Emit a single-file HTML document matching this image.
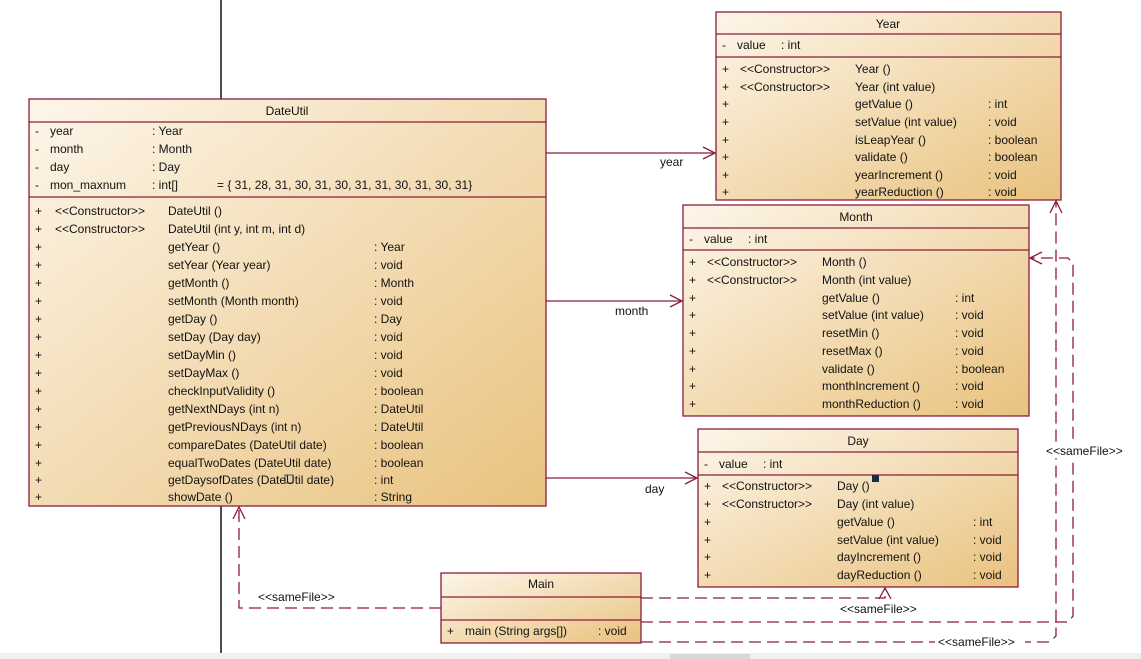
<!DOCTYPE html>
<html><head><meta charset="utf-8"><style>
html,body{margin:0;padding:0;background:#fff;width:1141px;height:659px;overflow:hidden}
svg text{font-family:"Liberation Sans",sans-serif;font-size:12px;fill:#111}
</style></head><body>
<svg width="1141" height="659" viewBox="0 0 1141 659" xmlns="http://www.w3.org/2000/svg">
<defs>
<linearGradient id="g" x1="0" y1="0" x2="1" y2="1">
<stop offset="0" stop-color="#fdf6ea"/><stop offset="1" stop-color="#e9c27e"/>
</linearGradient>
</defs>
<line x1="221" y1="0" x2="221" y2="659" stroke="#111" stroke-width="1.5"/>
<rect x="0" y="653" width="1141" height="6" fill="#f0f0f0"/>
<rect x="670" y="654" width="80" height="5" fill="#d8d8d8"/>

<g stroke="#8b1c3c" stroke-width="1.3" fill="none">
<line x1="546" y1="153" x2="715" y2="153"/><polyline points="703,147 715,153 703,159"/>
<line x1="546" y1="301" x2="682" y2="301"/><polyline points="670,295 682,301 670,307"/>
<line x1="546" y1="478" x2="697" y2="478"/><polyline points="685,472 697,478 685,484"/>
<g stroke-dasharray="12,6">
<polyline points="441,608 239,608 239,507"/>
<polyline points="641,598 885,598 885,588"/>
<polyline points="641,622 1068,622 1073,616 1073,263 1068,258 1030,258"/>
<polyline points="641,642 1050,642 1056,636 1056,201"/>
</g>
<polyline points="233,519 239,507 245,519"/>
<polyline points="879,599 885,588 891,599"/>
<polyline points="1042,252 1030,258 1042,264"/>
<polyline points="1050,213 1056,201 1062,213"/>
</g>
<g fill="#fff"><rect x="1040" y="442" width="94" height="16"/><rect x="935" y="634" width="90" height="16"/></g>
<text x="660" y="166">year</text>
<text x="615" y="315">month</text>
<text x="645" y="493">day</text>
<text x="258" y="601" font-size="11">&lt;&lt;sameFile&gt;&gt;</text>
<text x="840" y="613" font-size="11">&lt;&lt;sameFile&gt;&gt;</text>
<text x="1046" y="455" font-size="11">&lt;&lt;sameFile&gt;&gt;</text>
<text x="938" y="646" font-size="11">&lt;&lt;sameFile&gt;&gt;</text>

<!-- DateUtil -->
<g stroke="#8b1c3c" stroke-width="1.3">
<rect x="29" y="99" width="517" height="407" fill="url(#g)"/>
<line x1="29" y1="122" x2="546" y2="122"/><line x1="29" y1="197" x2="546" y2="197"/>
<rect x="716" y="12" width="345" height="188" fill="url(#g)"/>
<line x1="716" y1="34" x2="1061" y2="34"/><line x1="716" y1="57" x2="1061" y2="57"/>
<rect x="683" y="205" width="346" height="211" fill="url(#g)"/>
<line x1="683" y1="228" x2="1029" y2="228"/><line x1="683" y1="250" x2="1029" y2="250"/>
<rect x="698" y="429" width="320" height="158" fill="url(#g)"/>
<line x1="698" y1="452" x2="1018" y2="452"/><line x1="698" y1="475" x2="1018" y2="475"/>
<rect x="441" y="573" width="200" height="70" fill="url(#g)"/>
<line x1="441" y1="597" x2="641" y2="597"/><line x1="441" y1="620" x2="641" y2="620"/>
</g>
<rect x="872" y="475" width="7" height="7" fill="#1a2a4a"/>
<rect x="285" y="475" width="8" height="8" fill="none" stroke="#2a4a9a"/>

<g>
<text x="287" y="115" text-anchor="middle">DateUtil</text>
<text x="35" y="135">-</text><text x="50" y="135">year</text><text x="152" y="135">: Year</text>
<text x="35" y="153">-</text><text x="50" y="153">month</text><text x="152" y="153">: Month</text>
<text x="35" y="171">-</text><text x="50" y="171">day</text><text x="152" y="171">: Day</text>
<text x="35" y="189">-</text><text x="50" y="189">mon_maxnum</text><text x="152" y="189">: int[]</text><text x="217" y="189">= { 31, 28, 31, 30, 31, 30, 31, 31, 30, 31, 30, 31}</text>
<text x="35" y="215">+</text><text x="55" y="215" font-size="11">&lt;&lt;Constructor&gt;&gt;</text><text x="168" y="215">DateUtil ()</text>
<text x="35" y="233">+</text><text x="55" y="233" font-size="11">&lt;&lt;Constructor&gt;&gt;</text><text x="168" y="233">DateUtil (int y, int m, int d)</text>
<text x="35" y="251">+</text><text x="168" y="251">getYear ()</text><text x="374" y="251">: Year</text>
<text x="35" y="269">+</text><text x="168" y="269">setYear (Year year)</text><text x="374" y="269">: void</text>
<text x="35" y="287">+</text><text x="168" y="287">getMonth ()</text><text x="374" y="287">: Month</text>
<text x="35" y="305">+</text><text x="168" y="305">setMonth (Month month)</text><text x="374" y="305">: void</text>
<text x="35" y="323">+</text><text x="168" y="323">getDay ()</text><text x="374" y="323">: Day</text>
<text x="35" y="341">+</text><text x="168" y="341">setDay (Day day)</text><text x="374" y="341">: void</text>
<text x="35" y="359">+</text><text x="168" y="359">setDayMin ()</text><text x="374" y="359">: void</text>
<text x="35" y="377">+</text><text x="168" y="377">setDayMax ()</text><text x="374" y="377">: void</text>
<text x="35" y="395">+</text><text x="168" y="395">checkInputValidity ()</text><text x="374" y="395">: boolean</text>
<text x="35" y="413">+</text><text x="168" y="413">getNextNDays (int n)</text><text x="374" y="413">: DateUtil</text>
<text x="35" y="431">+</text><text x="168" y="431">getPreviousNDays (int n)</text><text x="374" y="431">: DateUtil</text>
<text x="35" y="449">+</text><text x="168" y="449">compareDates (DateUtil date)</text><text x="374" y="449">: boolean</text>
<text x="35" y="467">+</text><text x="168" y="467">equalTwoDates (DateUtil date)</text><text x="374" y="467">: boolean</text>
<text x="35" y="484">+</text><text x="168" y="484">getDaysofDates (DateUtil date)</text><text x="374" y="484">: int</text>
<text x="35" y="501">+</text><text x="168" y="501">showDate ()</text><text x="374" y="501">: String</text>

<text x="888" y="28" text-anchor="middle">Year</text>
<text x="722" y="49">-</text><text x="737" y="49">value</text><text x="781" y="49">: int</text>
<text x="722" y="73">+</text><text x="740" y="73" font-size="11">&lt;&lt;Constructor&gt;&gt;</text><text x="855" y="73">Year ()</text>
<text x="722" y="91">+</text><text x="740" y="91" font-size="11">&lt;&lt;Constructor&gt;&gt;</text><text x="855" y="91">Year (int value)</text>
<text x="722" y="108">+</text><text x="855" y="108">getValue ()</text><text x="988" y="108">: int</text>
<text x="722" y="126">+</text><text x="855" y="126">setValue (int value)</text><text x="988" y="126">: void</text>
<text x="722" y="144">+</text><text x="855" y="144">isLeapYear ()</text><text x="988" y="144">: boolean</text>
<text x="722" y="161">+</text><text x="855" y="161">validate ()</text><text x="988" y="161">: boolean</text>
<text x="722" y="179">+</text><text x="855" y="179">yearIncrement ()</text><text x="988" y="179">: void</text>
<text x="722" y="196">+</text><text x="855" y="196">yearReduction ()</text><text x="988" y="196">: void</text>

<text x="856" y="221" text-anchor="middle">Month</text>
<text x="689" y="243">-</text><text x="704" y="243">value</text><text x="748" y="243">: int</text>
<text x="689" y="266">+</text><text x="707" y="266" font-size="11">&lt;&lt;Constructor&gt;&gt;</text><text x="822" y="266">Month ()</text>
<text x="689" y="284">+</text><text x="707" y="284" font-size="11">&lt;&lt;Constructor&gt;&gt;</text><text x="822" y="284">Month (int value)</text>
<text x="689" y="302">+</text><text x="822" y="302">getValue ()</text><text x="955" y="302">: int</text>
<text x="689" y="319">+</text><text x="822" y="319">setValue (int value)</text><text x="955" y="319">: void</text>
<text x="689" y="337">+</text><text x="822" y="337">resetMin ()</text><text x="955" y="337">: void</text>
<text x="689" y="355">+</text><text x="822" y="355">resetMax ()</text><text x="955" y="355">: void</text>
<text x="689" y="373">+</text><text x="822" y="373">validate ()</text><text x="955" y="373">: boolean</text>
<text x="689" y="390">+</text><text x="822" y="390">monthIncrement ()</text><text x="955" y="390">: void</text>
<text x="689" y="408">+</text><text x="822" y="408">monthReduction ()</text><text x="955" y="408">: void</text>

<text x="858" y="445" text-anchor="middle">Day</text>
<text x="704" y="468">-</text><text x="719" y="468">value</text><text x="763" y="468">: int</text>
<text x="704" y="490">+</text><text x="722" y="490" font-size="11">&lt;&lt;Constructor&gt;&gt;</text><text x="837" y="490">Day ()</text>
<text x="704" y="508">+</text><text x="722" y="508" font-size="11">&lt;&lt;Constructor&gt;&gt;</text><text x="837" y="508">Day (int value)</text>
<text x="704" y="526">+</text><text x="837" y="526">getValue ()</text><text x="973" y="526">: int</text>
<text x="704" y="544">+</text><text x="837" y="544">setValue (int value)</text><text x="973" y="544">: void</text>
<text x="704" y="561">+</text><text x="837" y="561">dayIncrement ()</text><text x="973" y="561">: void</text>
<text x="704" y="579">+</text><text x="837" y="579">dayReduction ()</text><text x="973" y="579">: void</text>

<text x="541" y="588" text-anchor="middle">Main</text>
<text x="447" y="635">+</text><text x="465" y="635">main (String args[])</text><text x="598" y="635">: void</text>
</g>
</svg>
</body></html>
